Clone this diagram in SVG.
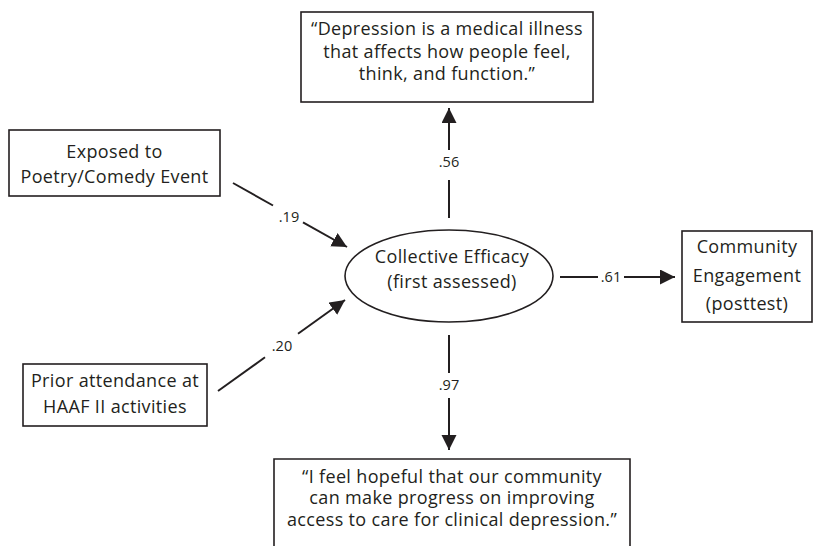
<svg xmlns="http://www.w3.org/2000/svg" width="814" height="546" viewBox="0 0 814 546">
<style>
.box{fill:#fff;stroke:#231f20;stroke-width:1.6}
.t{font-family:"Open Sans","Noto Sans",sans-serif;font-size:18px;letter-spacing:0.35px;fill:#231f20;text-anchor:middle}
.l{font-family:"Open Sans","Noto Sans",sans-serif;font-size:14.5px;fill:#231f20;text-anchor:middle}
.c{stroke:#231f20;stroke-width:2;fill:none}
</style>
<defs>
<marker id="ah" markerUnits="userSpaceOnUse" markerWidth="16" markerHeight="16" refX="15" refY="7.5" orient="auto">
<path d="M0,0 L15,7.5 L0,15 z" fill="#231f20"/>
</marker>
</defs>
<rect width="814" height="546" fill="#fff"/>
<g id="connectors">
<line class="c" x1="233" y1="183" x2="273" y2="205.5"/>
<line class="c" x1="303" y1="222.3" x2="347" y2="247" marker-end="url(#ah)"/>
<text class="l" x="289" y="222">.19</text>
<line class="c" x1="218" y1="391" x2="265" y2="357.3"/>
<line class="c" x1="298" y1="333.7" x2="345" y2="300" marker-end="url(#ah)"/>
<text class="l" x="282" y="351">.20</text>
<line class="c" x1="449" y1="218" x2="449" y2="180"/>
<line class="c" x1="449" y1="150" x2="449" y2="108" marker-end="url(#ah)"/>
<text class="l" x="449" y="167">.56</text>
<line class="c" x1="449" y1="335" x2="449" y2="373"/>
<line class="c" x1="449" y1="398" x2="449" y2="450" marker-end="url(#ah)"/>
<text class="l" x="449" y="390">.97</text>
<line class="c" x1="560" y1="277" x2="598" y2="277"/>
<line class="c" x1="624" y1="277" x2="675" y2="277" marker-end="url(#ah)"/>
<text class="l" x="611" y="282">.61</text>
</g>
<g id="n-depression">
<rect class="box" x="301" y="12" width="292" height="90"/>
<text class="t" x="447" y="35">“Depression is a medical illness</text>
<text class="t" x="447" y="58">that affects how people feel,</text>
<text class="t" x="447" y="80">think, and function.”</text>
</g>
<g id="n-exposed">
<rect class="box" x="9" y="130" width="211" height="66"/>
<text class="t" x="114.5" y="158">Exposed to</text>
<text class="t" x="114.5" y="183">Poetry/Comedy Event</text>
</g>
<g id="n-prior">
<rect class="box" x="23" y="364" width="184" height="62"/>
<text class="t" x="115" y="387">Prior attendance at</text>
<text class="t" x="115" y="413">HAAF II activities</text>
</g>
<g id="n-efficacy">
<ellipse class="box" cx="449" cy="276" rx="104" ry="46"/>
<text class="t" x="452" y="263">Collective Efficacy</text>
<text class="t" x="452" y="288">(first assessed)</text>
</g>
<g id="n-engagement">
<rect class="box" x="682" y="231" width="130" height="91"/>
<text class="t" x="747" y="253">Community</text>
<text class="t" x="747" y="282">Engagement</text>
<text class="t" x="747" y="310">(posttest)</text>
</g>
<g id="n-hopeful">
<path class="box" d="M274,547 V459 H630 V547"/>
<text class="t" x="452" y="483">“I feel hopeful that our community</text>
<text class="t" x="452" y="504">can make progress on improving</text>
<text class="t" x="452" y="526">access to care for clinical depression.”</text>
</g>
</svg>
